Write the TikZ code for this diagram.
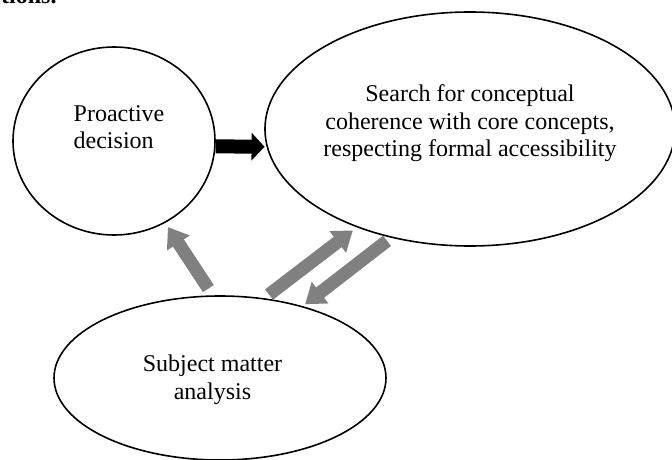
\documentclass[tikz,border=0pt]{standalone}
\usepackage{fontspec}
\setmainfont{Liberation Serif}
\usetikzlibrary{shapes.geometric,arrows.meta}
\tikzset{
  bubble/.style={draw,ellipse,line width=1.6pt,inner sep=0pt},
  words/.style={align=center,inner sep=0pt,font=\fontsize{24}{27.5}\selectfont},
  blackarrow/.style={line width=14pt,-{Triangle[width=27pt,length=13pt]}},
  grayarrow/.style={line width=13pt,draw=gray,-{Triangle[width=26pt,length=19pt]}}
}
\begin{document}
\begin{tikzpicture}[x=1pt,y=-1pt]
\useasboundingbox (0,0) rectangle (672,460);
\node[words,anchor=base west,font=\fontsize{24}{27.5}\selectfont\bfseries] (cut) at (1,4) {tions.};
\node[bubble,minimum width=202pt,minimum height=188pt] (pro) at (114,141) {};
\node[bubble,minimum width=410pt,minimum height=234pt] (search) at (470,129) {};
\node[bubble,minimum width=332pt,minimum height=164pt] (subj) at (220,378) {};
\node[words,align=left] (protext) at (119,127.4) {Proactive\\decision};
\node[words] (searchtext) at (470,123.4) {Search for conceptual\\coherence with core concepts,\\respecting formal accessibility};
\node[words] (subjtext) at (212.5,380) {Subject matter\\analysis};
\draw[blackarrow,shorten >=2pt] (pro.-3) -- (search.185);
\draw[grayarrow,shorten <=8pt,shorten >=5pt] (subj.95) -- (pro.302);
\draw[grayarrow,shorten <=6pt,shorten >=5pt] (subj.61) -- (search.221);
\draw[grayarrow,shorten <=5pt,shorten >=3pt] (search.234) -- (subj.41);
\end{tikzpicture}
\end{document}
